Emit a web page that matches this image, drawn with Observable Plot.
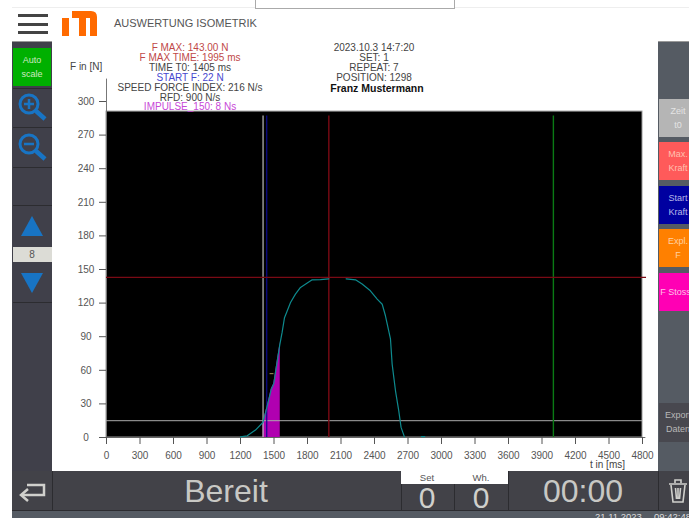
<!DOCTYPE html>
<html><head><meta charset="utf-8">
<script src="https://cdn.jsdelivr.net/npm/d3@7"></script>
<script src="https://cdn.jsdelivr.net/npm/@observablehq/plot@0.6"></script>
<style>
html,body{margin:0;padding:0;background:#fff;overflow:hidden}
#page{position:relative;width:689px;height:518px;overflow:hidden;font-family:"Liberation Sans",Arial,sans-serif;background:#fff}
.b{position:absolute;box-sizing:border-box;overflow:hidden}
.t{position:absolute;white-space:nowrap;line-height:1}
.c{transform:translateX(-50%);text-align:center}
.btn{position:absolute;box-sizing:border-box;overflow:hidden;text-align:center;font-size:9px;line-height:14px;padding-top:5px;white-space:nowrap}
#chart{position:absolute;left:52px;top:41px}
#chart svg{display:block}
</style></head><body>
<div id="page">
  <!-- top bar -->
  <div class="b" style="left:12px;top:7px;width:677px;height:1px;background:#eee"></div>
  <div class="b" style="left:255px;top:-2px;width:200px;height:11px;border:1px solid #aaa;background:#fff"></div>
  <div class="b" style="left:18px;top:14px;width:30px;height:3px;background:#444"></div>
  <div class="b" style="left:18px;top:23px;width:30px;height:3px;background:#444"></div>
  <div class="b" style="left:18px;top:31px;width:30px;height:3px;background:#444"></div>
  <svg class="b" style="left:62px;top:11px" width="35" height="25" viewBox="0 0 35 25">
    <path fill="#ff6a00" d="M0 7H7V25H0ZM10 0H29Q35 0 35 6V25H28V7H24V25H17V7H10Z"/>
  </svg>
  <div class="t" style="left:114px;top:18px;font-size:11px;color:#555">AUSWERTUNG ISOMETRIK</div>

  <!-- chrome panels -->
  <div class="b" style="left:12px;top:41px;width:40px;height:477px;background:#40404a"></div>
  <div class="b" style="left:658px;top:41px;width:31px;height:477px;background:#555b63"></div>
  <div class="b" style="left:12px;top:41px;width:677px;height:1px;background:#999"></div>
  <div class="b" style="left:12px;top:471px;width:677px;height:39px;background:#424248"></div>
  <div class="b" style="left:12px;top:510px;width:677px;height:8px;background:#555b63;border-top:1px solid #2c2c30"></div>

  <!-- left buttons -->
  <div class="btn" style="left:13px;top:48px;width:38px;height:38px;background:#00b000;color:#cfe8c0;">Auto<br>scale</div>
  <div class="b" style="left:13px;top:88px;width:39px;height:1px;background:#2c2c30"></div>
  <svg class="b" style="left:18px;top:93px" width="30" height="30" viewBox="0 0 30 30" fill="none" stroke="#1874c4">
    <circle cx="11" cy="11" r="9" stroke-width="3"/><path d="M18 18L27 26" stroke-width="4.5"/><path d="M6 11H16M11 6V16" stroke-width="2.5"/>
  </svg>
  <div class="b" style="left:13px;top:127px;width:39px;height:1px;background:#2c2c30"></div>
  <svg class="b" style="left:18px;top:133px" width="30" height="30" viewBox="0 0 30 30" fill="none" stroke="#1874c4">
    <circle cx="11" cy="11" r="9" stroke-width="3"/><path d="M18 18L27 26" stroke-width="4.5"/><path d="M6 11H16" stroke-width="2.5"/>
  </svg>
  <div class="b" style="left:13px;top:167px;width:39px;height:1px;background:#2c2c30"></div>
  <div class="b" style="left:13px;top:205px;width:39px;height:1px;background:#2c2c30"></div>
  <svg class="b" style="left:20px;top:216px" width="24" height="22" viewBox="0 0 24 22"><path fill="#1874c4" d="M12 0L23 20H1Z"/></svg>
  <div class="b" style="left:13px;top:247px;width:39px;height:15px;background:#dcdcd6"></div>
  <div class="t c" style="left:32px;top:250px;font-size:10px;color:#555">8</div>
  <svg class="b" style="left:20px;top:272px" width="24" height="22" viewBox="0 0 24 22"><path fill="#1874c4" d="M1 1H23L12 21Z"/></svg>
  <div class="b" style="left:13px;top:302px;width:39px;height:1px;background:#2c2c30"></div>

  <!-- right buttons -->
  <div class="btn" style="left:659px;top:99px;width:38px;height:38px;background:#b5b5b5;color:#e4e4e4">Zeit<br>t0</div>
  <div class="btn" style="left:659px;top:142px;width:38px;height:38px;background:#ff5a5a;color:#ffc0b0">Max.<br>Kraft</div>
  <div class="btn" style="left:659px;top:186px;width:38px;height:38px;background:#0000a0;color:#b8b8e8">Start<br>Kraft</div>
  <div class="btn" style="left:659px;top:229px;width:38px;height:38px;background:#ff8000;color:#ffd0a0">Expl.<br>F</div>
  <div class="btn" style="left:659px;top:273px;width:33px;height:38px;background:#ff00b4;color:#ffc0e8;padding-top:12px">F Stoss</div>
  <div class="btn" style="left:659px;top:403px;width:38px;height:39px;background:#48484f;color:#b8b8b8">Export<br>Daten</div>

  <!-- bottom bar -->
  <div class="b" style="left:52px;top:471px;width:1px;height:39px;background:#2c2c30"></div>
  <svg class="b" style="left:18px;top:480px" width="28" height="22" viewBox="0 0 28 22" fill="none" stroke="#d0d0cc" stroke-width="2.5">
    <path d="M9 5H26V15H4"/><path d="M10 9L3 15L10 21"/>
  </svg>
  <div class="t c" style="left:226px;top:475px;font-size:32px;color:#c8c8c4">Bereit</div>
  <div class="b" style="left:401px;top:471px;width:107px;height:13px;background:#fff"></div>
  <div class="t c" style="left:427px;top:473px;font-size:9.5px;color:#555">Set</div>
  <div class="t c" style="left:481px;top:473px;font-size:9.5px;color:#555">Wh.</div>
  <div class="b" style="left:401px;top:484px;width:1px;height:26px;background:#2c2c30"></div>
  <div class="b" style="left:454px;top:484px;width:1px;height:26px;background:#2c2c30"></div>
  <div class="b" style="left:508px;top:471px;width:1px;height:39px;background:#2c2c30"></div>
  <div class="t c" style="left:427px;top:483px;font-size:30px;color:#d0d0cc">0</div>
  <div class="t c" style="left:481px;top:483px;font-size:30px;color:#d0d0cc">0</div>
  <div class="t c" style="left:583px;top:475px;font-size:32px;color:#c8c8c4">00:00</div>
  <div class="b" style="left:658px;top:471px;width:1px;height:39px;background:#2c2c30"></div>
  <svg class="b" style="left:668px;top:478px" width="20" height="26" viewBox="0 0 20 26" fill="none" stroke="#d0d0cc" stroke-width="1.6">
    <path d="M1 6H19M7 5V2H13V5M3 7L5 24H15L17 7M7.5 10L8.5 21M12.5 10L11.5 21M10 10V21"/>
  </svg>
  <div class="t" style="left:595px;top:512px;font-size:9.5px;color:#ddd">21.11.2023</div>
  <div class="t" style="left:654px;top:512px;font-size:9.5px;color:#ddd">09:42:48</div>

  <div id="chart"></div>

  <!-- chart annotations -->
  <div id="notes"></div>
</div>
<script>
// Force curve (ms, N); null leaves the gaps visible in the trace
const forceTimes = [1200,1260,1334,1400,1424,1454,1475,1498,1513,1534,1552,1573,1594,1618,1648,1692,1737,1791,1842,1916,1991,2060,2146,2230,2289,2363,2424,2469,2498,2543,2558,2588,2617,2638,2668,2750,2820,2850];
const forceValues = [0.6,1.5,6.6,13.4,22,34,43,48,58,71.5,83,94,107,113,120.5,128,134,137.5,140.8,141,141.7,null,141.7,140.8,137,131,123.6,119,108.7,88,65.5,41.7,24,9,0.6,null,0.8,0.8];
// Filled impulse region
const impulseTimes = [1402,1424,1454,1475,1498,1513,1534,1556];
const impulseValues = [13.6,22,34,43,48,58,71.5,85];

const xTicks = d3.range(0, 4801, 300);
const yTicks = d3.range(0, 301, 30);
const plotTop = 291;
const plotRight = 4800;

const fMax = 143, threshold = 15;
const timeT0 = 1402, startF = 1435, fMaxTime = 1991, endCursor = 4002;
const cursorTop = 287;
const marker = [{t1: 1465, t2: 1500, f: 57}];

const headerLeft = [
  ["F MAX: 143.00 N", "#c04848"],
  ["F MAX TIME: 1995 ms", "#c04848"],
  ["TIME T0: 1405 ms", "#444"],
  ["START F: 22 N", "#4848d0"],
  ["SPEED FORCE INDEX: 216 N/s", "#444"],
  ["RFD: 900 N/s", "#444"],
  ["IMPULSE_150: 8 Ns", "#c848d8"]
];
const headerRight = [
  ["2023.10.3 14:7:20", "#444"],
  ["SET: 1", "#444"],
  ["REPEAT: 7", "#444"],
  ["POSITION: 1298", "#444"]
];
const athlete = "Franz Mustermann";

const curve = forceTimes.map((t, i) => ({t, f: forceValues[i]}));
const impulse = impulseTimes.map((t, i) => ({t, f: impulseValues[i]}));
const axisCol = "#555";

const plot = Plot.plot({
  width: 606, height: 430,
  marginLeft: 54, marginRight: 16, marginTop: 60, marginBottom: 34,
  style: {background: "#fff", fontFamily: "'Liberation Sans',Arial,sans-serif", fontSize: "10px"},
  x: {type: "linear", domain: [0, 4800], label: null},
  y: {type: "linear", domain: [0, 300], label: null},
  marks: [
    Plot.rect([0], {x1: () => 0, x2: () => plotRight, y1: () => 0, y2: () => plotTop, fill: "#000", stroke: "#999", strokeWidth: 1}),
    Plot.ruleX([0], {y1: 0, y2: 320, stroke: "#777"}),
    Plot.ruleY([0], {x1: 0, x2: 4830, stroke: "#666"}),
    Plot.axisY({ticks: yTicks, anchor: "left", tickSize: 7, tickPadding: 13.5, textAnchor: "middle", color: axisCol, label: null, tickFormat: d => String(d)}),
    Plot.axisX({ticks: xTicks, anchor: "bottom", tickSize: 7, tickPadding: 7, color: axisCol, label: null, tickFormat: d => String(d)}),
    Plot.areaY(impulse, {x: "t", y: "f", fill: "#b000b0"}),
    Plot.ruleY([threshold], {x1: 0, x2: 4800, stroke: "#aaa", strokeWidth: 1}),
    Plot.ruleX([timeT0], {y1: 0, y2: cursorTop, stroke: "#bbb", strokeWidth: 1.2}),
    Plot.ruleX([startF], {y1: 0, y2: cursorTop, stroke: "#0a0a90", strokeWidth: 1.2}),
    Plot.ruleX([fMaxTime], {y1: 0, y2: cursorTop, stroke: "#7a0a14", strokeWidth: 1.4}),
    Plot.ruleX([endCursor], {y1: 0, y2: cursorTop, stroke: "#0a7a14", strokeWidth: 1.4}),
    Plot.ruleY([fMax], {x1: 0, x2: 4836, stroke: "#7a0a14", strokeWidth: 1.4}),
    Plot.line(curve, {x: "t", y: "f", stroke: "#0e8a8e", strokeWidth: 1.2}),
    Plot.ruleY(marker, {x1: "t1", x2: "t2", y: "f", stroke: "#a89860", strokeWidth: 1})
  ]
});
document.getElementById("chart").appendChild(plot);

const notes = document.getElementById("notes");
function note(text, left, top, opts = {}) {
  const d = document.createElement("div");
  d.className = "t" + (opts.center ? " c" : "");
  d.textContent = text;
  d.style.cssText = `left:${left}px;top:${top}px;font-size:${opts.size || 10}px;color:${opts.color || "#444"};` + (opts.bold ? "font-weight:bold;" : "");
  notes.appendChild(d);
}
headerLeft.forEach(([s, c], i) => note(s, 190, 43 + i * 10 - (i === 6 ? 1 : 0), {center: true, color: c}));
headerRight.forEach(([s, c], i) => note(s, 374, 43 + i * 10, {center: true, color: c}));
note(athlete, 377, 83, {center: true, color: "#111", bold: true, size: 10.5});
note("F in [N]", 70, 62);
note("t in [ms]", 590, 460);
</script>
</body></html>
